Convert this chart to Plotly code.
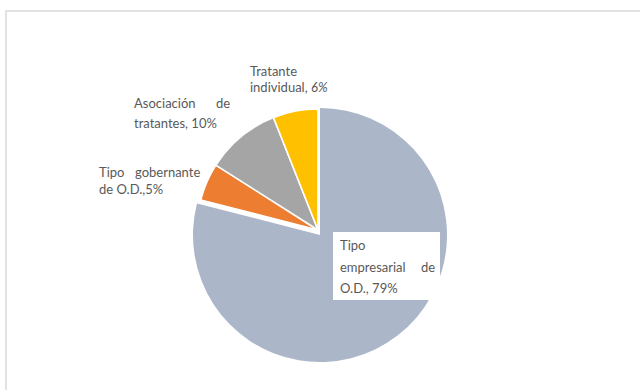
import plotly.graph_objects as go

# Distribution of data-processing roles
categories = ["Tipo empresarial de O.D.", "Tipo gobernante de O.D.",
              "Asociación de tratantes", "Tratante individual"]
values = [79, 5, 10, 6]
colors = ["#ABB6C9", "#ED7D31", "#A5A5A5", "#FFC000"]

W, H = 640, 390


def px(x):
    return x / W


def py(y):
    return 1 - y / H


fig = go.Figure()

# Main slice drawn on its own, slightly larger and offset outward
fig.add_trace(go.Pie(
    labels=categories, values=values, sort=False, direction="clockwise",
    rotation=0,
    marker=dict(colors=[colors[0], "rgba(0,0,0,0)", "rgba(0,0,0,0)", "rgba(0,0,0,0)"],
                line=dict(width=0)),
    textinfo="none", hoverinfo="skip", showlegend=False,
    domain=dict(x=[px(193), px(447)], y=[py(362), py(108)]),
))

# Smaller slices sharing a common apex
fig.add_trace(go.Pie(
    labels=categories, values=values, sort=False, direction="clockwise",
    rotation=0,
    marker=dict(colors=["rgba(0,0,0,0)"] + colors[1:],
                line=dict(color="white", width=[0, 1.6, 1.6, 1.6])),
    textinfo="none", hoverinfo="skip", showlegend=False,
    domain=dict(x=[px(197), px(439)], y=[py(351), py(109)]),
))

font = dict(family="Lato, 'Open Sans', sans-serif", size=13, color="#595959")


def label(x, y, text, anchor="left"):
    fig.add_annotation(x=px(x), y=py(y), xref="paper", yref="paper",
                       text=text, showarrow=False, xanchor=anchor,
                       yanchor="middle", font=font)


# Tratante individual
label(248, 71, "Tratante")
label(248, 87, f"individual, <i>{values[3]}%</i>")

# Asociación de tratantes (justified first line)
label(132, 103, "Asociación")
label(232, 103, "de", "right")
label(132, 123, f"tratantes, {values[2]}%")

# Tipo gobernante de O.D.
label(97, 172, "Tipo")
label(202, 172, "gobernante", "right")
label(97, 189, f"de O.D.,{values[1]}%")

# Tipo empresarial de O.D. in a white box
fig.add_shape(type="rect", xref="paper", yref="paper",
              x0=px(333), x1=px(440), y0=py(300), y1=py(232),
              fillcolor="white", line=dict(width=0), layer="above")
label(338, 245, "Tipo")
label(338, 267, "empresarial")
label(437, 267, "de", "right")
label(338, 288, f"O.D., {values[0]}%")

# Chart frame
fig.add_shape(type="rect", xref="paper", yref="paper",
              x0=px(6), x1=px(700), y0=py(450), y1=py(11),
              line=dict(color="#D9D9D9", width=1.5), fillcolor="rgba(0,0,0,0)",
              layer="below")

fig.update_layout(
    width=W, height=H, margin=dict(l=0, r=0, t=0, b=0),
    paper_bgcolor="white", plot_bgcolor="white", showlegend=False,
)

fig.write_html("out.html")
